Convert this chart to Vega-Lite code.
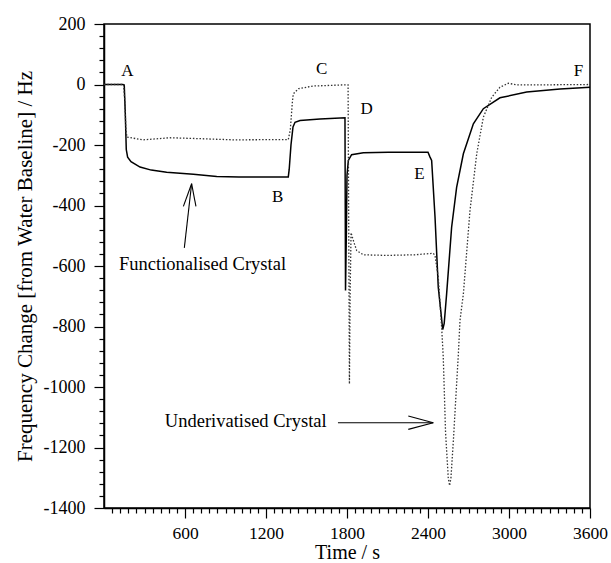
{
  "$schema": "https://vega.github.io/schema/vega-lite/v6.json",
  "width": 486,
  "height": 484,
  "autosize": "none",
  "padding": {"left": 104, "top": 24, "right": 21, "bottom": 55},
  "background": "white",
  "config": {
    "view": {"stroke": "black", "strokeWidth": 1.5},
    "font": "Liberation Serif",
    "axis": {
      "grid": false,
      "domainColor": "black",
      "domainWidth": 1.5,
      "tickColor": "black",
      "tickWidth": 1.2,
      "labelColor": "black",
      "titleColor": "black",
      "labelFont": "Liberation Serif",
      "titleFont": "Liberation Serif",
      "titleFontWeight": "normal",
      "labelFlush": false,
      "labelOverlap": false
    }
  },
  "datasets": {
    "func": [
      {"t": 0, "v": 0}, {"t": 140, "v": 0}, {"t": 150, "v": -2}, {"t": 158, "v": -100},
      {"t": 165, "v": -215}, {"t": 175, "v": -240}, {"t": 200, "v": -255}, {"t": 267, "v": -273},
      {"t": 350, "v": -283}, {"t": 464, "v": -290}, {"t": 662, "v": -297}, {"t": 835, "v": -304},
      {"t": 1000, "v": -306}, {"t": 1365, "v": -306}, {"t": 1372, "v": -280}, {"t": 1385, "v": -200},
      {"t": 1400, "v": -140}, {"t": 1415, "v": -125}, {"t": 1452, "v": -119}, {"t": 1600, "v": -114},
      {"t": 1785, "v": -110}, {"t": 1787, "v": -400}, {"t": 1789, "v": -681}, {"t": 1795, "v": -500},
      {"t": 1800, "v": -300}, {"t": 1810, "v": -251}, {"t": 1834, "v": -232}, {"t": 1921, "v": -226},
      {"t": 2106, "v": -224}, {"t": 2400, "v": -224}, {"t": 2415, "v": -240}, {"t": 2427, "v": -251},
      {"t": 2452, "v": -438}, {"t": 2476, "v": -670}, {"t": 2509, "v": -810}, {"t": 2520, "v": -790},
      {"t": 2538, "v": -692}, {"t": 2575, "v": -472}, {"t": 2612, "v": -340}, {"t": 2662, "v": -229},
      {"t": 2736, "v": -130}, {"t": 2810, "v": -80}, {"t": 2933, "v": -44}, {"t": 3131, "v": -25},
      {"t": 3378, "v": -15}, {"t": 3600, "v": -9}
    ],
    "under": [
      {"t": 0, "v": 0}, {"t": 145, "v": 0}, {"t": 155, "v": -60}, {"t": 162, "v": -150},
      {"t": 170, "v": -174}, {"t": 291, "v": -183}, {"t": 489, "v": -176}, {"t": 711, "v": -179},
      {"t": 958, "v": -183}, {"t": 1365, "v": -182}, {"t": 1380, "v": -150}, {"t": 1395, "v": -60},
      {"t": 1402, "v": -31}, {"t": 1440, "v": -14}, {"t": 1551, "v": -5}, {"t": 1798, "v": -1},
      {"t": 1808, "v": -1}, {"t": 1813, "v": -500}, {"t": 1818, "v": -990}, {"t": 1823, "v": -700},
      {"t": 1830, "v": -490}, {"t": 1850, "v": -520}, {"t": 1872, "v": -549}, {"t": 1921, "v": -563},
      {"t": 2094, "v": -565}, {"t": 2300, "v": -563}, {"t": 2439, "v": -558}, {"t": 2452, "v": -565},
      {"t": 2476, "v": -637}, {"t": 2501, "v": -802}, {"t": 2513, "v": -901}, {"t": 2530, "v": -1150},
      {"t": 2550, "v": -1300}, {"t": 2560, "v": -1326}, {"t": 2570, "v": -1300}, {"t": 2588, "v": -1177},
      {"t": 2612, "v": -990}, {"t": 2625, "v": -890}, {"t": 2637, "v": -780}, {"t": 2662, "v": -692},
      {"t": 2711, "v": -417}, {"t": 2761, "v": -229}, {"t": 2810, "v": -108}, {"t": 2872, "v": -42},
      {"t": 2933, "v": -9}, {"t": 2995, "v": 4}, {"t": 3057, "v": -1}, {"t": 3300, "v": -1},
      {"t": 3600, "v": 0}
    ],
    "letters": [
      {"t": 173, "v": 43, "label": "A"},
      {"t": 1286, "v": -372, "label": "B"},
      {"t": 1612, "v": 52, "label": "C"},
      {"t": 1946, "v": -80, "label": "D"},
      {"t": 2336, "v": -295, "label": "E"},
      {"t": 3514, "v": 46, "label": "F"}
    ],
    "notes": [
      {"t": 730, "v": -595, "label": "Functionalised Crystal"},
      {"t": 1050, "v": -1113, "label": "Underivatised Crystal"}
    ],
    "arrows": [
      {"t": 595, "v": -540, "t2": 649, "v2": -328},
      {"t": 588, "v": -403, "t2": 649, "v2": -328},
      {"t": 681, "v": -403, "t2": 649, "v2": -328},
      {"t": 1733, "v": -1118, "t2": 2439, "v2": -1118},
      {"t": 2254, "v": -1096, "t2": 2439, "v2": -1118},
      {"t": 2254, "v": -1140, "t2": 2439, "v2": -1118}
    ]
  },
  "resolve": {"axis": {"x": "independent", "y": "independent"}},
  "layer": [
    {
      "data": {"name": "func"},
      "mark": {"type": "line", "color": "black", "strokeWidth": 1.5},
      "encoding": {
        "x": {
          "field": "t", "type": "quantitative",
          "scale": {"domain": [0, 3600], "nice": false, "zero": false},
          "axis": {
            "orient": "bottom",
            "values": [600, 1200, 1800, 2400, 3000, 3600],
            "labelExpr": "'' + datum.value",
            "tickSize": 10,
            "labelFontSize": 17.5,
            "labelPadding": 6,
            "title": "Time / s",
            "titleFontSize": 20,
            "titlePadding": 1
          }
        },
        "y": {
          "field": "v", "type": "quantitative",
          "scale": {"domain": [-1400, 200], "nice": false, "zero": false},
          "axis": {
            "orient": "left",
            "values": [-1400, -1200, -1000, -800, -600, -400, -200, 0, 200],
            "labelExpr": "'' + datum.value",
            "tickSize": 10,
            "labelFontSize": 18,
            "labelPadding": 9,
            "title": "Frequency Change [from Water Baseline] / Hz",
            "titleFontSize": 21,
            "titlePadding": 8
          }
        }
      }
    },
    {
      "data": {"name": "under"},
      "mark": {"type": "line", "color": "#333333", "strokeWidth": 1.3, "strokeDash": [1.5, 1.8]},
      "encoding": {
        "x": {
          "field": "t", "type": "quantitative",
          "axis": {
            "orient": "bottom",
            "values": [60,120,180,240,300,360,420,480,540,660,720,780,840,900,960,1020,1080,1140,1260,1320,1380,1440,1500,1560,1620,1680,1740,1860,1920,1980,2040,2100,2160,2220,2280,2340,2460,2520,2580,2640,2700,2760,2820,2880,2940,3060,3120,3180,3240,3300,3360,3420,3480,3540],
            "tickSize": 5,
            "labels": false,
            "domain": false,
            "title": null
          }
        },
        "y": {
          "field": "v", "type": "quantitative",
          "axis": {
            "orient": "left",
            "values": [-1360,-1320,-1280,-1240,-1160,-1120,-1080,-1040,-960,-920,-880,-840,-760,-720,-680,-640,-560,-520,-480,-440,-360,-320,-280,-240,-160,-120,-80,-40,40,80,120,160],
            "tickSize": 5,
            "labels": false,
            "domain": false,
            "title": null
          }
        }
      }
    },
    {
      "data": {"name": "arrows"},
      "mark": {"type": "rule", "color": "black", "strokeWidth": 1.1},
      "encoding": {
        "x": {"field": "t", "type": "quantitative", "axis": null},
        "y": {"field": "v", "type": "quantitative", "axis": null},
        "x2": {"field": "t2"},
        "y2": {"field": "v2"}
      }
    },
    {
      "data": {"name": "letters"},
      "mark": {"type": "text", "font": "Liberation Serif", "fontSize": 17, "color": "black", "align": "center", "baseline": "middle"},
      "encoding": {
        "x": {"field": "t", "type": "quantitative", "axis": null},
        "y": {"field": "v", "type": "quantitative", "axis": null},
        "text": {"field": "label"}
      }
    },
    {
      "data": {"name": "notes"},
      "mark": {"type": "text", "font": "Liberation Serif", "fontSize": 18.5, "color": "black", "align": "center", "baseline": "middle"},
      "encoding": {
        "x": {"field": "t", "type": "quantitative", "axis": null},
        "y": {"field": "v", "type": "quantitative", "axis": null},
        "text": {"field": "label"}
      }
    }
  ]
}
